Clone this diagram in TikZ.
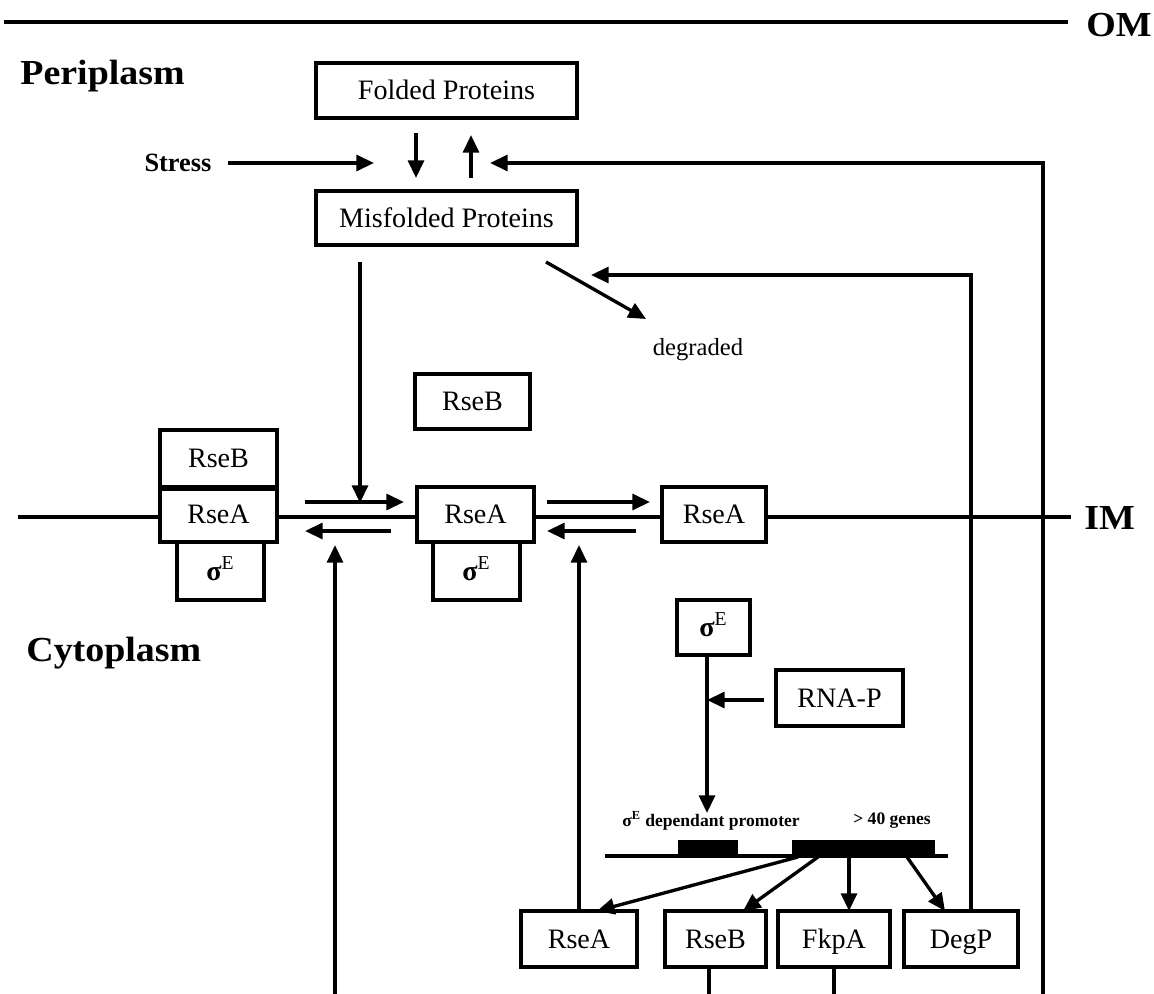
\documentclass[tikz,border=0pt]{standalone}
\usepackage{fontspec}
\setmainfont{Liberation Serif}
\newfontfamily\headfont[FakeStretch=1.08]{Liberation Serif}
\usetikzlibrary{arrows.meta}
\newcommand{\sigE}{{\bfseries σ}\textsuperscript{E}}
\begin{document}
\begin{tikzpicture}[x=0.02cm,y=-0.02cm,
  ln/.style={line width=1.9pt},
  arr/.style={line width=1.9pt,-{Triangle[length=10pt,width=9pt]}},
  bx/.style 2 args={draw,line width=2pt,fill=white,inner sep=0pt,
     text height=11pt,text depth=0.5pt,
     minimum width=#1*0.02cm,minimum height=#2*0.02cm,
     font=\fontsize{16}{19}\selectfont},
  head/.style={font=\headfont\bfseries\fontsize{20}{24}\selectfont,anchor=west,inner sep=0pt},
  small/.style={font=\fontsize{10}{12}\selectfont\bfseries,inner sep=0pt},
  blk/.style 2 args={fill=black,inner sep=0pt,minimum width=#1*0.02cm,minimum height=#2*0.02cm}]
\useasboundingbox (0,0) rectangle (1154,994);
% membranes
\coordinate (om1) at (4,22); \coordinate (om2) at (1068,22);
\draw[ln] (om1) -- (om2);
\node[head] (OM) at (1086,25) {OM};
\coordinate (im1) at (18,517); \coordinate (im2) at (1071,517);
\draw[ln] (im1) -- (im2);
\node[head] (IM) at (1084,518) {IM};
% compartment labels
\node[head] (peri) at (20,76) {Periplasm};
\node[head] (cyto) at (26,653) {Cytoplasm};
% periplasm
\node[bx={261}{55}] (fold) at (446.5,90.5) {Folded Proteins};
\node[bx={261}{54}] (misf) at (446.5,218) {Misfolded Proteins};
\node[font=\fontsize{15}{18}\selectfont\bfseries,inner sep=0pt] (stress) at (178,163) {Stress};
\coordinate (s1) at (228,163); \coordinate (s2) at (374,163);
\draw[arr] (s1) -- (s2);
\coordinate (d1) at (416,133); \coordinate (d2) at (416,178);
\draw[arr] (d1) -- (d2);
\coordinate (u1) at (471,178); \coordinate (u2) at (471,135);
\draw[arr] (u1) -- (u2);
\coordinate (r0) at (1043,994); \coordinate (r1) at (1043,163); \coordinate (r2) at (490,163);
\draw[arr] (r0) -- (r1) -- (r2);
\coordinate (m1) at (360,262); \coordinate (m2) at (360,503);
\draw[arr] (m1) -- (m2);
\coordinate (g0) at (546,262); \coordinate (gd) at (646,319);
\draw[arr] (g0) -- (gd);
\node[font=\fontsize{14}{17}\selectfont,inner sep=0pt] (degr) at (698,350) {degraded};
\node[bx={115}{55}] (fRseB) at (472.5,401.5) {RseB};
% membrane complexes
\node[bx={87}{58}] (lSig) at (220.5,571) {\sigE};
\node[bx={117}{57}] (lRseB) at (218.5,458.5) {RseB};
\node[bx={117}{55}] (lRseA) at (218.5,514.5) {RseA};
\draw[line width=3pt] (lRseB.south west) -- (lRseB.south east);
\node[bx={87}{58}] (mSig) at (476.5,571) {\sigE};
\node[bx={117}{55}] (mRseA) at (475.5,514.5) {RseA};
\node[bx={104}{55}] (rRseA) at (714,514.5) {RseA};
\coordinate (f1a) at (305,502); \coordinate (f1b) at (404,502);
\draw[arr] (f1a) -- (f1b);
\coordinate (b1a) at (391,531); \coordinate (b1b) at (305,531);
\draw[arr] (b1a) -- (b1b);
\coordinate (f2a) at (547,502); \coordinate (f2b) at (650,502);
\draw[arr] (f2a) -- (f2b);
\coordinate (b2a) at (636,531); \coordinate (b2b) at (547,531);
\draw[arr] (b2a) -- (b2b);
% cytoplasm
\node[bx={73}{55}] (sigR) at (713.5,627.5) {\sigE};
\node[bx={127}{56}] (rnap) at (839.5,698) {RNA-P};
\coordinate (pt) at (707,813);
\draw[arr] (sigR.south -| pt) -- (pt);
\coordinate (rj) at (707,700); \coordinate (rs) at (764,700);
\draw[arr] (rs) -- (rj);
\node[small] (promtxt) at (711,821) {\sigE\ dependant promoter};
\node[small] (genetxt) at (892,821) {> 40 genes};
\coordinate (dna1) at (605,856); \coordinate (dna2) at (948,856);
\draw[ln] (dna1) -- (dna2);
\node[blk={60}{16}] (prom) at (708,848) {};
\node[blk={143}{17}] (genes) at (863.5,848) {};
% products
\node[bx={116}{56}] (bRseA) at (579,939) {RseA};
\node[bx={101}{56}] (bRseB) at (715.5,939) {RseB};
\node[bx={112}{56}] (bFkpA) at (834,939) {FkpA};
\node[bx={114}{56}] (bDegP) at (961,939) {DegP};
\coordinate (ga) at (798,857); \coordinate (ta) at (597,911);
\coordinate (gb) at (818,857); \coordinate (tb) at (743,911);
\coordinate (gc) at (849,857); \coordinate (tc) at (849,911);
\coordinate (ge) at (907,857); \coordinate (te) at (945,911);
\draw[arr] (ga) -- (ta);
\draw[arr] (gb) -- (tb);
\draw[arr] (gc) -- (tc);
\draw[arr] (ge) -- (te);
% feedback lines
\coordinate (dpc) at (971,275); \coordinate (dpe) at (591,275);
\draw[arr] (bDegP.north -| dpc) -- (dpc) -- (dpe);
\coordinate (up2) at (579,545);
\draw[arr] (bRseA.north) -- (up2);
\coordinate (up1a) at (335,994); \coordinate (up1b) at (335,545);
\draw[arr] (up1a) -- (up1b);
\coordinate (lb1) at (709,994); \coordinate (lb2) at (834,994);
\draw[ln] (bRseB.south -| lb1) -- (lb1);
\draw[ln] (bFkpA.south) -- (lb2);
\end{tikzpicture}
\end{document}
